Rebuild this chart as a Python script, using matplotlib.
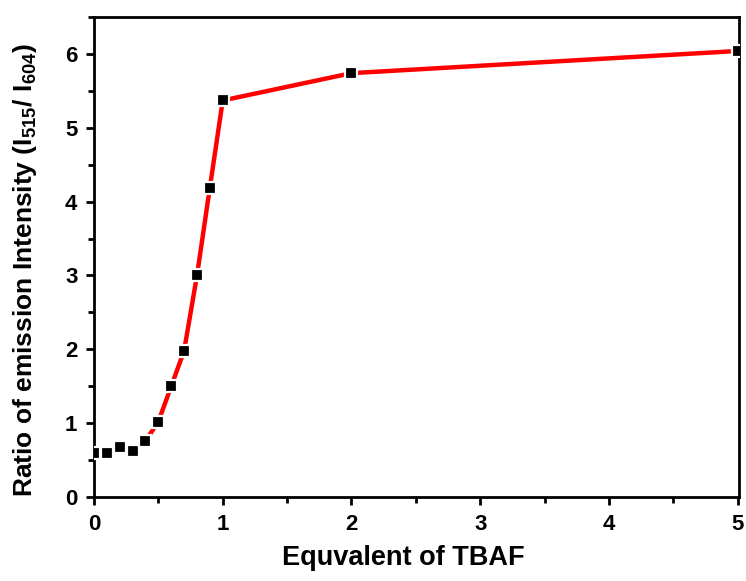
import matplotlib
matplotlib.use("Agg")
import matplotlib.pyplot as plt
from matplotlib.ticker import MultipleLocator

equiv = [0, 0.1, 0.2, 0.3, 0.4, 0.5, 0.6, 0.7, 0.8, 0.9, 1.0, 2.0, 5.0]
ratio = [0.60, 0.60, 0.68, 0.62, 0.76, 1.02, 1.50, 1.98, 3.00, 4.19, 5.37, 5.74, 6.04]

plt.rcParams['font.family'] = ['Liberation Sans', 'DejaVu Sans']
plt.rcParams['font.weight'] = 'bold'
plt.rcParams['mathtext.fontset'] = 'custom'
plt.rcParams['mathtext.rm'] = 'Liberation Sans:bold'
plt.rcParams['mathtext.it'] = 'Liberation Sans:bold'
plt.rcParams['mathtext.bf'] = 'Liberation Sans:bold'

fig = plt.figure(figsize=(7.46, 5.81), dpi=100)
ax = fig.add_axes([0.126, 0.1446, 0.8646, 0.8261])

ax.plot(equiv, ratio, color='#ff0000', lw=3.2, zorder=2, clip_on=True)
ax.plot(equiv, ratio, ls='none', marker='s', ms=9, mfc='black', mec='white', mew=1.6,
        zorder=3, clip_on=True)

ax.set_xlim(0, 5.01)
ax.set_ylim(0, 6.5)
ax.xaxis.set_major_locator(MultipleLocator(1))
ax.xaxis.set_minor_locator(MultipleLocator(0.5))
ax.yaxis.set_major_locator(MultipleLocator(1))
ax.yaxis.set_minor_locator(MultipleLocator(0.5))
ax.tick_params(which='major', direction='out', length=6, width=2, labelsize=16, pad=6)
ax.tick_params(which='minor', direction='out', length=4, width=2)
for s in ax.spines.values():
    s.set_linewidth(2)
for lab in ax.get_xticklabels() + ax.get_yticklabels():
    lab.set_fontweight('bold')

ax.set_xlabel('Equvalent of TBAF', fontsize=19.5, fontweight='bold')
ax.set_ylabel('Ratio of emission Intensity (I$_{515}$/ I$_{604}$)', fontsize=19,
              fontweight='bold')
ax.xaxis.set_label_coords(0.48, -0.127, transform=ax.transAxes)
ax.xaxis.label.set_va('center')
ax.yaxis.set_label_coords(-0.107, 0.473, transform=ax.transAxes)
ax.yaxis.label.set_va('center')

fig.savefig('out.png', dpi=100)
